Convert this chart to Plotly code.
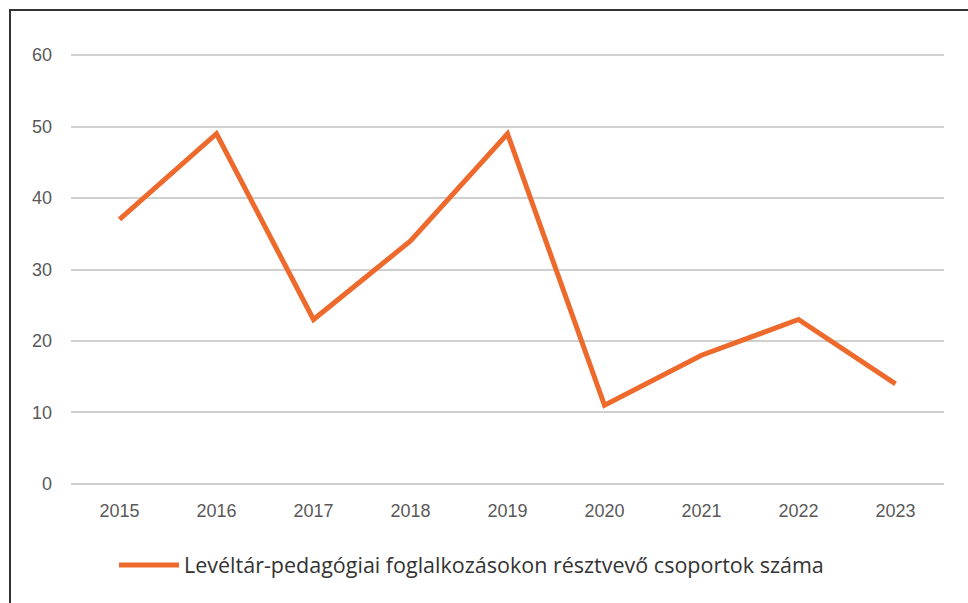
import plotly.graph_objects as go

years = ["2015", "2016", "2017", "2018", "2019", "2020", "2021", "2022", "2023"]
groups = [37, 49, 23, 34, 49, 11, 18, 23, 14]
series_name = "Levéltár-pedagógiai foglalkozásokon résztvevő csoportok száma"
y_ticks = [0, 10, 20, 30, 40, 50, 60]

W, H = 968, 603
L, R, T, B = 71, 24, 53, 117
pw, ph = W - L - R, H - T - B
y_lo, y_hi = -0.3, 60.3

fig = go.Figure()
fig.add_trace(go.Scatter(
    x=years, y=groups, mode="lines", name=series_name,
    line=dict(color="#EE6A2C", width=5),
))

fig.update_layout(
    width=W, height=H,
    margin=dict(l=L, r=R, t=T, b=B),
    paper_bgcolor="white", plot_bgcolor="white",
    font=dict(family="Liberation Sans, Arial, sans-serif", color="#595959"),
    showlegend=True,
    legend=dict(
        orientation="h", x=(114 - L) / pw, xanchor="left",
        y=-(565 - (T + ph)) / ph, yanchor="middle",
        font=dict(family="Open Sans, sans-serif", size=21.5, color="#333333"),
        itemwidth=60,
    ),
    xaxis=dict(
        type="category", range=[-0.5, 8.5], showgrid=False, zeroline=False,
        showline=False, tickfont=dict(size=18, color="#595959"),
        ticks="", ticklabelstandoff=12,
    ),
    yaxis=dict(
        range=[y_lo, y_hi], tickvals=y_ticks, showgrid=True, gridcolor="#D0D0D0",
        gridwidth=2, zeroline=False, showline=False,
        tickfont=dict(size=18, color="#595959"), ticks="",
        ticklabelstandoff=18,
    ),
    shapes=[dict(
        type="rect", xref="paper", yref="paper",
        x0=(10 - L) / pw, x1=(W + 20 - L) / pw,
        y0=-(H + 20 - (T + ph)) / ph, y1=(T + ph - 10) / ph,
        line=dict(color="#333333", width=2), fillcolor="rgba(0,0,0,0)",
        layer="below",
    )],
)

fig.write_html("out.html", config={"displayModeBar": False},
               post_script="document.body.style.margin='0';")
